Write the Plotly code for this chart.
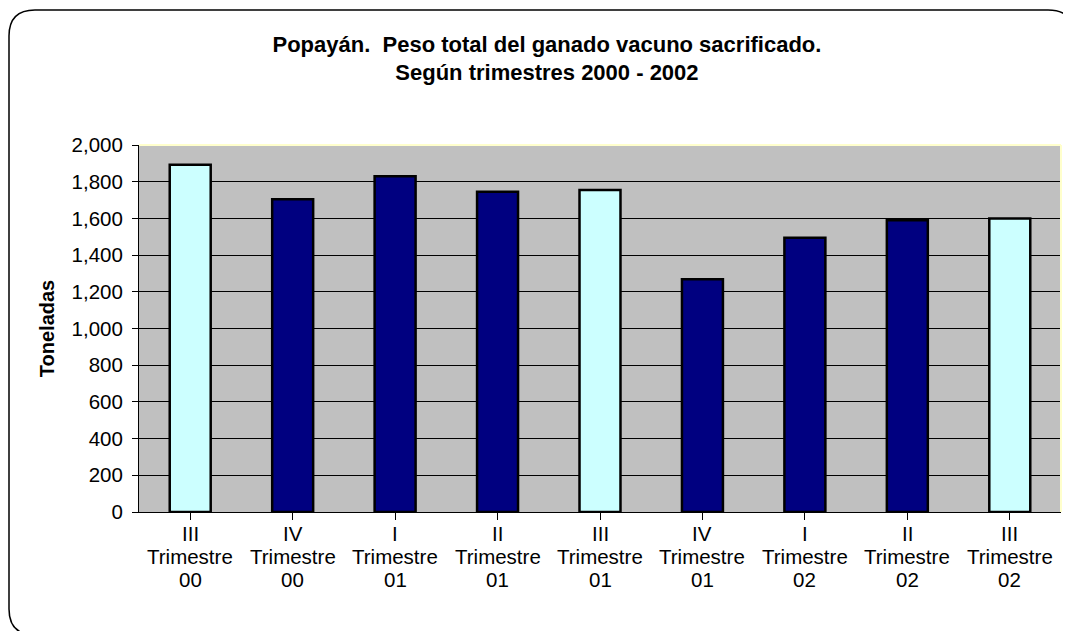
import plotly.graph_objects as go

# Data
trimestres = ["III", "IV", "I", "II", "III", "IV", "I", "II", "III"]
anios = ["00", "00", "01", "01", "01", "01", "02", "02", "02"]
toneladas = [1893, 1705, 1830, 1745, 1755, 1268, 1495, 1590, 1600]
colores = ["#CCFFFF", "#000080", "#000080", "#000080", "#CCFFFF",
           "#000080", "#000080", "#000080", "#CCFFFF"]

posiciones = list(range(len(trimestres)))

fuente = "Liberation Sans, Arial, sans-serif"

fig = go.Figure()
fig.add_trace(go.Bar(
    x=posiciones,
    y=toneladas,
    marker=dict(color=colores, line=dict(color="black", width=2.5)),
    hoverinfo="y",
))

# the page has an 8px body margin, so the figure is drawn 8px smaller
W, H = 1063, 623
L, R, T, B = 131, 10, 137, 119
pw, ph = W - L - R, H - T - B


def px_x(v):
    return (v - L) / pw


def px_y(v):
    return (H - B - v) / ph


# rounded chart border (runs off the bottom/right of the picture)
x0, x1 = px_x(1), px_x(1066)
y0, y1 = px_y(627), px_y(2)
rx, ry = 26 / pw, 26 / ph
borde = (f"M {x0+rx},{y1} L {x1-rx},{y1} Q {x1},{y1} {x1},{y1-ry} "
         f"L {x1},{y0+ry} Q {x1},{y0} {x1-rx},{y0} "
         f"L {x0+rx},{y0} Q {x0},{y0} {x0},{y0+ry} "
         f"L {x0},{y1-ry} Q {x0},{y1} {x0+rx},{y1} Z")

# category labels: three tight lines under each bar
etiquetas = []
for p, t, a in zip(posiciones, trimestres, anios):
    for texto, dy in ((t, -21), ("Trimestre", -44), (a, -67)):
        etiquetas.append(dict(
            x=p, xref="x", y=0, yref="paper", yanchor="middle",
            yshift=dy, text=texto, showarrow=False,
            font=dict(family=fuente, size=20.5, color="black"),
        ))

fig.update_layout(
    width=W, height=H,
    margin=dict(l=L, r=R, t=T, b=B),
    paper_bgcolor="white",
    plot_bgcolor="#C0C0C0",
    showlegend=False,
    bargap=0.6,
    font=dict(family=fuente, size=20, color="black"),
    title=dict(
        text="<b>Popayán.&nbsp; Peso total del ganado vacuno sacrificado.<br>"
             "Según trimestres 2000 - 2002</b>",
        x=0.507, xanchor="center", y=0.93, yanchor="top",
        font=dict(family=fuente, size=22, color="black"),
    ),
    annotations=etiquetas,
    shapes=[
        dict(type="path", xref="paper", yref="paper", path=borde,
             line=dict(color="black", width=1.5), layer="below"),
        dict(type="line", xref="paper", yref="paper", x0=0, x1=1, y0=1, y1=1,
             line=dict(color="#FFFFCC", width=2)),
        dict(type="line", xref="paper", yref="paper", x0=1, x1=1, y0=0, y1=1,
             line=dict(color="#FFFFCC", width=2)),
    ],
)

fig.update_xaxes(
    tickmode="array", tickvals=posiciones, showticklabels=False,
    range=[-0.5, len(posiciones) - 0.5],
    showline=True, linecolor="black", linewidth=1,
    ticks="outside", ticklen=7, tickcolor="black",
    showgrid=False, zeroline=False,
)
# tick marks on the category boundaries
fig.update_xaxes(tickson="boundaries")

fig.update_yaxes(
    range=[0, 2000], dtick=200, tickformat=",",
    showline=True, linecolor="black", linewidth=1,
    ticks="outside", ticklen=6, tickcolor="black",
    showgrid=True, gridcolor="black", gridwidth=1,
    zeroline=False,
    tickfont=dict(size=20.5),
    ticklabelstandoff=5,
    title=dict(text="<b>Toneladas</b>", font=dict(size=20), standoff=11),
)

fig.write_html("out.html")
